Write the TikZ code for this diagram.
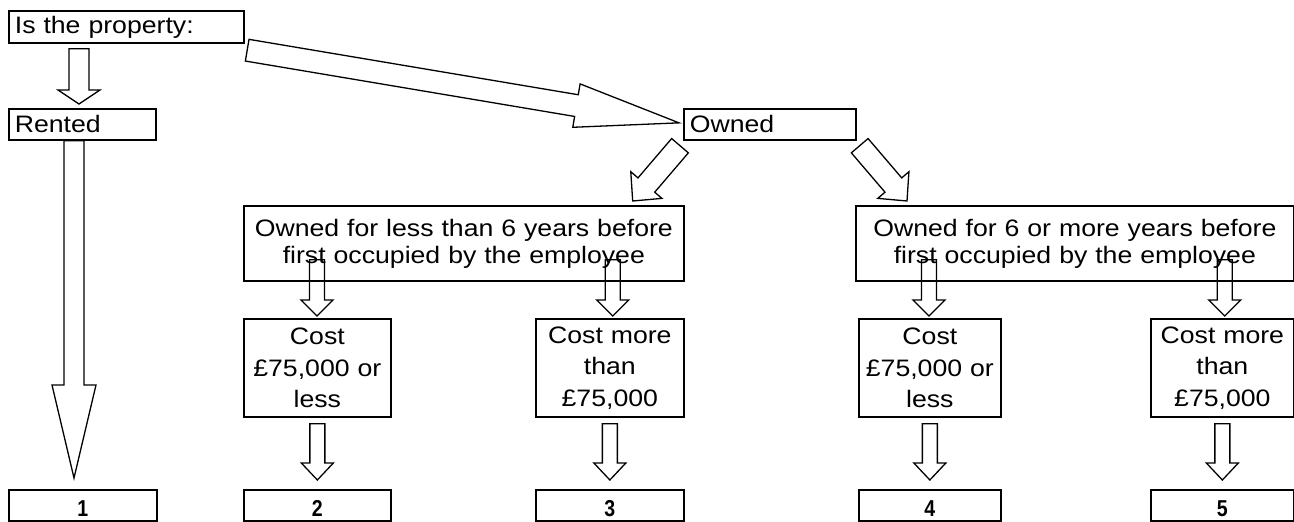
\documentclass[tikz,border=0pt]{standalone}
\usepackage{fontspec}
\setmainfont{Liberation Sans}[FakeStretch=1.12]
\newfontfamily\numfont{Liberation Sans}[FakeStretch=0.85]
\usetikzlibrary{calc}
\tikzstyle{qbox} = [draw=black, line width=1.7pt, rectangle, anchor=north west,
    inner xsep=6pt, inner ysep=0pt, align=left, font=\fontsize{23.8}{27}\selectfont]
\tikzstyle{tbox} = [draw=black, line width=1.7pt, rectangle, anchor=north west,
    inner sep=0pt, align=center, font=\fontsize{23.8}{27}\selectfont]
\tikzstyle{costbox} = [tbox, minimum height=98pt, font=\fontsize{23.8}{31.5}\selectfont]
\tikzstyle{numbox} = [draw=black, line width=1.7pt, rectangle, anchor=north west,
    inner sep=0pt, minimum height=31pt, text height=23pt, text depth=0pt,
    font=\numfont\bfseries\fontsize{23}{26}\selectfont]
\tikzstyle{fat} = [draw=black, line width=1.3pt, line join=miter]
% block arrow: shaft half width, head half width, head length, from, to
\newcommand{\fatarrow}[5]{%
  \coordinate (fa-s) at #4;
  \coordinate (fa-e) at #5;
  \draw[fat] ($(fa-s)!#1!90:(fa-e)$)
    -- ($(fa-e)!#3!(fa-s)!#1!90:(fa-e)$)
    -- ($(fa-e)!#3!(fa-s)!#2!90:(fa-e)$)
    -- (fa-e)
    -- ($(fa-e)!#3!(fa-s)!#2!-90:(fa-e)$)
    -- ($(fa-e)!#3!(fa-s)!#1!-90:(fa-e)$)
    -- ($(fa-s)!#1!-90:(fa-e)$) -- cycle;
}

\begin{document}
\begin{tikzpicture}[x=1pt, y=-1pt]
\useasboundingbox (0,0) rectangle (1294,522);
% question and first split
\node[qbox, text width=223pt, minimum height=32pt] (prop) at (8,10) {Is the property:};
\node[qbox, text width=135pt, minimum height=31pt] (rented) at (8,108) {Rented};
\node[qbox, text width=160pt, minimum height=31pt] (owned) at (683,108) {Owned};
% how long owned
\node[tbox, text width=440pt, minimum height=75pt] (less) at (243,205)
    {Owned for less than 6 years before\\first occupied by the employee};
\node[tbox, text width=438pt, minimum height=75pt] (more) at (855,205)
    {Owned for 6 or more years before\\first occupied by the employee};
% cost
\node[costbox, text width=147pt] (costA) at (243,318) {Cost\\£75,000 or\\less};
\node[costbox, text width=148pt] (costB) at (535,318) {Cost more\\than\\£75,000};
\node[costbox, text width=142pt] (costC) at (858,318) {Cost\\£75,000 or\\less};
\node[costbox, text width=143pt] (costD) at (1150,318) {Cost more\\than\\£75,000};
% outcomes
\node[numbox, minimum width=148pt] (one) at (8,489) {1};
\node[numbox, minimum width=147pt] (two) at (243,489) {2};
\node[numbox, minimum width=148pt] (three) at (535,489) {3};
\node[numbox, minimum width=142pt] (four) at (858,489) {4};
\node[numbox, minimum width=143pt] (five) at (1150,489) {5};

\fatarrow{10pt}{21pt}{14pt}{($(prop.south west)+(71,5)$)}{($(rented.north west)+(71,-4)$)}
\fatarrow{10pt}{22pt}{93pt}{($(rented.south west)+(66,0)$)}{($(one.north west)+(66,-11)$)}
\fatarrow{11pt}{22pt}{104pt}{($(prop.south east)+(2.5,6.5)$)}{($(owned.west)+(-4,-1.5)$)}
\fatarrow{11pt}{20.5pt}{21pt}{($(owned.south west)+(-3,5)$)}{($(less.north east)+(-52,-4)$)}
\fatarrow{11pt}{20.5pt}{21pt}{($(owned.south east)+(3,5)$)}{($(more.north west)+(52,-4)$)}
\fatarrow{7.5pt}{16pt}{16pt}{($(less.south west)+(74,-22)$)}{($(costA.north west)+(74,-2)$)}
\fatarrow{7.5pt}{16pt}{16pt}{($(less.south east)+(-72,-22)$)}{($(costB.north east)+(-72,-2)$)}
\fatarrow{7.5pt}{16pt}{16pt}{($(more.south west)+(74,-22)$)}{($(costC.north west)+(71,-2)$)}
\fatarrow{7.5pt}{16pt}{16pt}{($(more.south east)+(-70,-22)$)}{($(costD.north east)+(-70,-2)$)}
\fatarrow{7.5pt}{16pt}{17pt}{($(costA.south)+(0,6)$)}{($(two.north)+(0,-9)$)}
\fatarrow{7.5pt}{16pt}{17pt}{($(costB.south)+(0,6)$)}{($(three.north)+(0,-9)$)}
\fatarrow{7.5pt}{16pt}{17pt}{($(costC.south)+(0,6)$)}{($(four.north)+(0,-9)$)}
\fatarrow{7.5pt}{16pt}{17pt}{($(costD.south)+(0,6)$)}{($(five.north)+(0,-9)$)}
\end{tikzpicture}
\end{document}
